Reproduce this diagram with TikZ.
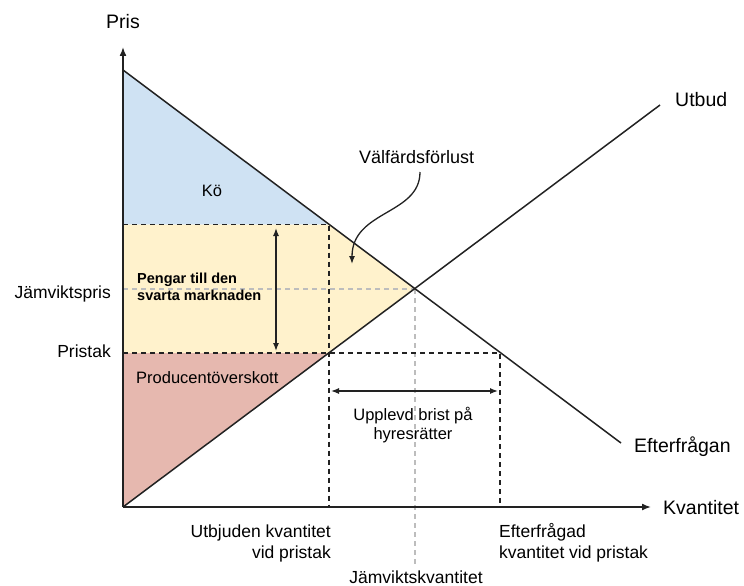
\documentclass[tikz,border=0pt]{standalone}
\usepackage{fontspec}
\setmainfont{Liberation Sans}
\usetikzlibrary{arrows.meta}
\definecolor{queueblue}{HTML}{CFE2F3}
\definecolor{blackyellow}{HTML}{FFF2CC}
\definecolor{producerred}{HTML}{E6B8AF}
\definecolor{inkline}{HTML}{222222}
\definecolor{guidegray}{HTML}{BDBDBD}
\tikzset{
  curve/.style={inkline, line width=1.5pt},
  axisline/.style={inkline, line width=1.5pt, -{Latex[length=9pt,width=7pt]}},
  guide/.style={inkline, line width=1.3pt, dash pattern=on 5pt off 4pt},
  eqguide/.style={guidegray, line width=1.3pt, dash pattern=on 5pt off 4pt},
  span/.style={inkline, line width=1.3pt, {Latex[length=8pt,width=6pt]}-{Latex[length=8pt,width=6pt]}},
  lbl/.style={inner sep=0pt, font=\fontsize{19.5}{23}\selectfont},
  lblsm/.style={inner sep=0pt, font=\fontsize{17.5}{21}\selectfont},
  lblxs/.style={inner sep=0pt, font=\fontsize{16.5}{19}\selectfont},
  lblbold/.style={inner sep=0pt, align=left, font=\bfseries\fontsize{14.5}{17}\selectfont},
}
\begin{document}
\begin{tikzpicture}[x=1pt, y=-1pt]
\useasboundingbox (0,0) rectangle (744,586);
% key points
\coordinate (O) at (123,507);
\coordinate (Dtop) at (123,70);
\coordinate (Dend) at (621,443);
\coordinate (Send) at (660,105);
\coordinate (E) at (415,289);
\coordinate (Qs) at (329,224.5);
\coordinate (Ps) at (329,353);
\coordinate (Pd) at (500,353);
\coordinate (Yq) at (123,224.5);
\coordinate (Yc) at (123,353);
\coordinate (Ye) at (123,289);
\coordinate (Xs) at (329,507);
\coordinate (Xd) at (500,507);
\coordinate (Xe) at (415,565);
% shaded areas
\fill[queueblue] (Dtop) -- (Qs) -- (Yq) -- cycle;
\fill[blackyellow] (Yq) -- (Qs) -- (E) -- (Ps) -- (Yc) -- cycle;
\fill[producerred] (Yc) -- (Ps) -- (O) -- cycle;
% equilibrium guides
\draw[eqguide] (Ye) -- (E);
\draw[eqguide] (E) -- (Xe);
% price cap guides
\draw[guide] (Yq) -- (Qs) -- (Xs);
\draw[guide] (Yc) -- (Pd) -- (Xd);
% axes
\draw[axisline] (O) -- (123,47);
\draw[axisline] (O) -- (651,507);
% supply and demand
\draw[curve] (Dtop) -- (Dend);
\draw[curve] (O) -- (Send);
% span arrows
\coordinate (vA) at (276,228);
\coordinate (vB) at (276,351);
\draw[span] (vA) -- (vB);
\coordinate (hA) at (331,391);
\coordinate (hB) at (498,391);
\draw[span] (hA) -- (hB);
% labels
\node[lbl, anchor=base] (pris) at (123,29) {Pris};
\node[lbl, anchor=base west] (kvant) at (663,514) {Kvantitet};
\node[lbl, anchor=base west] (utbud) at (675,106) {Utbud};
\node[lbl, anchor=base west] (efter) at (634,452) {Efterfrågan};
\node[lblsm, anchor=base east] (jpris) at (111,298) {Jämviktspris};
\node[lblsm, anchor=base east] (ptak) at (111,357) {Pristak};
\node[lblxs, anchor=base] (ko) at (212,196) {Kö};
\node[lblxs, anchor=base west] (prod) at (136,383) {Producentöverskott};
\node[lblbold, anchor=base west] (peng) at (137,300) {Pengar till den\\svarta marknaden};
\node[lblxs, anchor=base, align=center] (brist) at (413,439) {Upplevd brist på\\hyresrätter};
\node[lblsm, anchor=base west, font=\fontsize{18}{21}\selectfont] (valf) at (359,163) {Välfärdsförlust};
\node[lblsm, anchor=base east, align=right] (utbj) at (331,558) {Utbjuden kvantitet\\vid pristak};
\node[lblsm, anchor=base west, align=left] (efterq) at (499,558) {Efterfrågad\\kvantitet vid pristak};
\node[lblsm, anchor=base] (jkv) at (416,583) {Jämviktskvantitet};
% welfare loss pointer
\coordinate (wl) at (352,264);
\draw[inkline, line width=1.3pt, -{Latex[length=8pt,width=6pt]}] (420,172) .. controls (420,215) and (352,210) .. (wl);
\end{tikzpicture}
\end{document}
